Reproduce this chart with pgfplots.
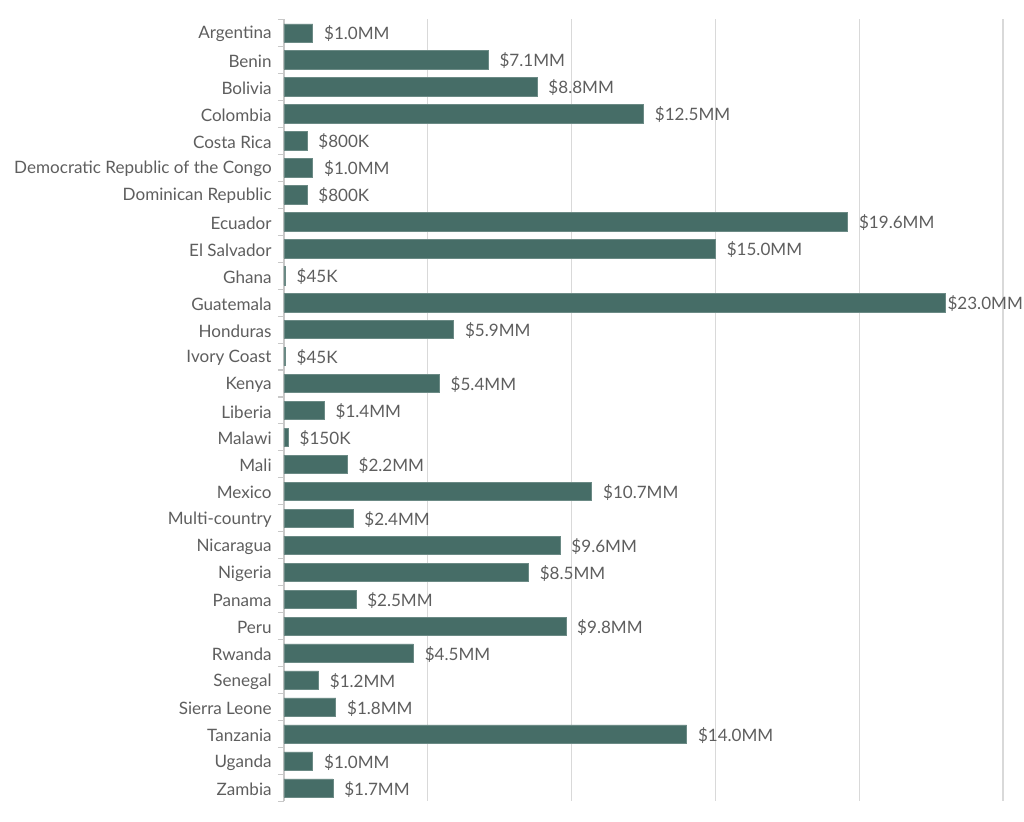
\documentclass[border=0pt]{standalone}
\usepackage{pgfplots}
\usepackage{pgfplotstable}
\pgfplotsset{compat=1.18}
\usepackage{fontspec}
\setmainfont{Lato}

\definecolor{barcol}{HTML}{466D67}
\definecolor{txt}{HTML}{5E5E5E}
\definecolor{gridc}{HTML}{D9D9D9}
\definecolor{axc}{HTML}{C8C8C8}

\pgfplotstableread[col sep=comma]{
idx,value,label,name
0,1.0,1.0MM,Argentina
1,7.1,7.1MM,Benin
2,8.8,8.8MM,Bolivia
3,12.5,12.5MM,Colombia
4,0.8,800K,Costa Rica
5,1.0,1.0MM,Democratic Republic of the Congo
6,0.8,800K,Dominican Republic
7,19.6,19.6MM,Ecuador
8,15.0,15.0MM,El Salvador
9,0.045,45K,Ghana
10,23.0,23.0MM,Guatemala
11,5.9,5.9MM,Honduras
12,0.045,45K,Ivory Coast
13,5.4,5.4MM,Kenya
14,1.4,1.4MM,Liberia
15,0.15,150K,Malawi
16,2.2,2.2MM,Mali
17,10.7,10.7MM,Mexico
18,2.4,2.4MM,Multi-country
19,9.6,9.6MM,Nicaragua
20,8.5,8.5MM,Nigeria
21,2.5,2.5MM,Panama
22,9.8,9.8MM,Peru
23,4.5,4.5MM,Rwanda
24,1.2,1.2MM,Senegal
25,1.8,1.8MM,Sierra Leone
26,14.0,14.0MM,Tanzania
27,1.0,1.0MM,Uganda
28,1.7,1.7MM,Zambia
}\data

\begin{document}
\begin{tikzpicture}
\begin{axis}[
    scale only axis,
    width=539.25pt, height=586.5pt,
    xmin=0, xmax=25, ymin=-0.5, ymax=28.5,
    y dir=reverse,
    axis lines*=left,
    x axis line style={draw=none},
    y axis line style={axc, line width=0.8pt},
    xtick={0,5,...,25}, xticklabels={},
    xmajorgrids, grid style={gridc, line width=0.8pt},
    x tick style={draw=none},
    ytick={0,...,28},
    yticklabels from table={\data}{name},
    major y tick style={draw=none},
    extra y ticks={-0.5,0.5,...,28.5},
    extra y tick labels={},
    extra y tick style={major y tick style={draw=axc, line width=0.8pt}, major tick length=4.5pt},
    tick align=outside,
    ticklabel style={font=\fontsize{12.8}{14}\selectfont, text=txt},
    yticklabel style={xshift=-1.5pt, yshift=-1pt},
    xbar, bar width=0.68,
    point meta=explicit symbolic,
    nodes near coords={\$\pgfplotspointmeta},
    nodes near coords style={anchor=west, xshift=5pt, yshift=-0.8pt, font=\fontsize{12.8}{14}\selectfont, text=txt},
    coordinate style/.condition={\coordindex==10}{xshift=-7pt},
]
\addplot[fill=barcol, draw=barcol!80!white, line width=0.4pt]
    table[x=value, y=idx, meta=label] {\data};
\coordinate (bl) at (rel axis cs:0,0);
\coordinate (tr) at (rel axis cs:1,1);
\end{axis}
\pgfresetboundingbox
\useasboundingbox ([shift={(-213pt,-15.4pt)}]bl) rectangle ([shift={(15.75pt,14.6pt)}]tr);
\end{tikzpicture}
\end{document}
